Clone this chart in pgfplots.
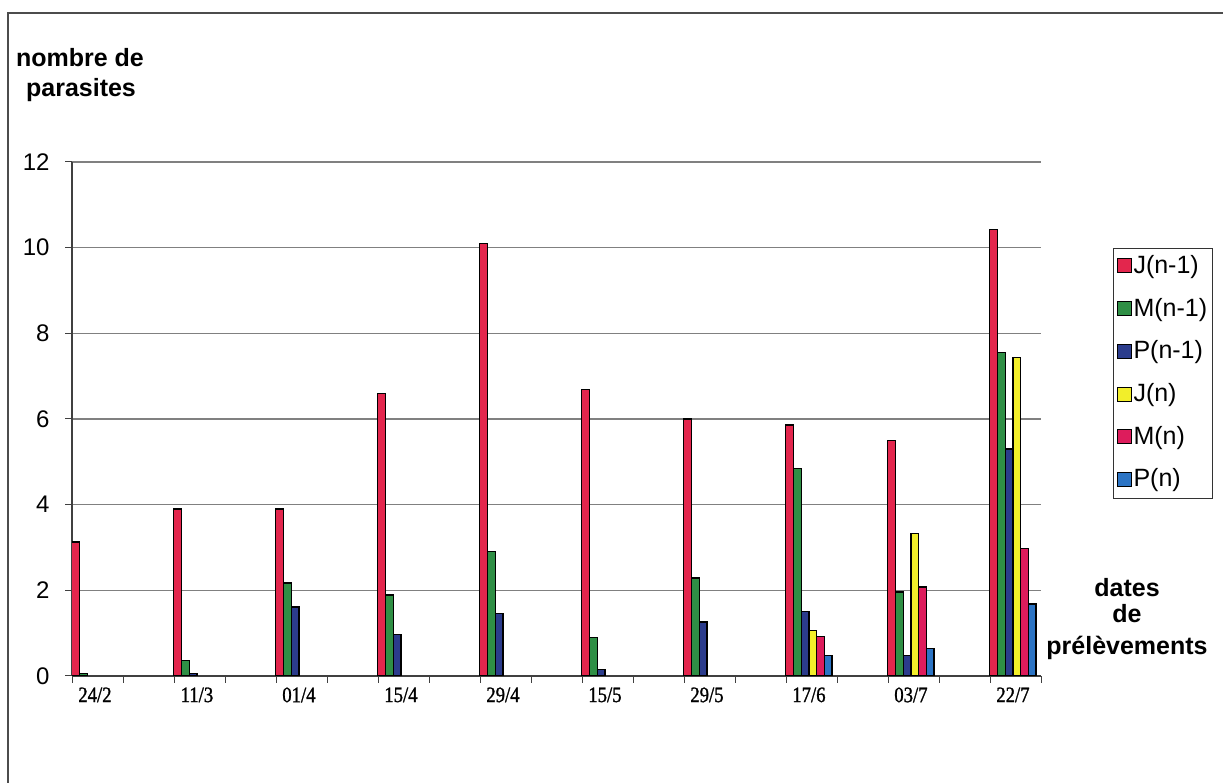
\documentclass[border=0pt]{standalone}
\usepackage{fontspec}
\setmainfont{Liberation Sans}
\newfontfamily\tickserif[FakeStretch=0.85,FakeBold=1.2]{Liberation Serif}
\usepackage{pgfplots}
\pgfplotsset{compat=1.18}
\usepackage{pgfplotstable}

\definecolor{cJa}{HTML}{E3264D}
\definecolor{cMa}{HTML}{2F8F45}
\definecolor{cPa}{HTML}{2B3C8C}
\definecolor{cJb}{HTML}{F2EE2A}
\definecolor{cMb}{HTML}{DD1C5C}
\definecolor{cPb}{HTML}{2C74C4}

\pgfplotstableread{
x JA MA PA JB MB PB
0.45 3.13 0.05 nan nan nan nan
2.45 3.90 0.37 0.05 nan nan nan
4.45 3.90 2.17 1.61 nan nan nan
6.45 6.60 1.89 0.96 nan nan nan
8.45 10.10 2.90 1.45 nan nan nan
10.45 6.68 0.89 0.16 nan nan nan
12.45 6.00 2.29 1.26 nan nan nan
14.45 5.86 4.84 1.50 1.07 0.93 0.47
16.45 5.49 1.96 0.47 3.32 2.08 0.65
18.45 10.42 7.55 5.30 7.43 2.97 1.68
}\data

\begin{document}
\begin{tikzpicture}
\useasboundingbox (0bp,0bp) rectangle (1223bp,783bp);
\draw[line width=1.5bp, black!70] (8bp,0bp) -- (8bp,770bp) -- (1223bp,770bp);
\node[anchor=base, inner sep=0pt, font=\fontsize{25bp}{30bp}\selectfont\bfseries] at (80bp,716bp) {nombre de};
\node[anchor=base, inner sep=0pt, font=\fontsize{25bp}{30bp}\selectfont\bfseries] at (81bp,686bp) {parasites};
\node[anchor=base, inner sep=0pt, font=\fontsize{25bp}{30bp}\selectfont\bfseries] at (1127bp,186bp) {dates};
\node[anchor=base, inner sep=0pt, font=\fontsize{25bp}{30bp}\selectfont\bfseries] at (1127bp,160bp) {de};
\node[anchor=base, inner sep=0pt, font=\fontsize{25bp}{30bp}\selectfont\bfseries] at (1127bp,128bp) {prélèvements};
\begin{axis}[
  at={(72bp,107bp)}, anchor=south west,
  scale only axis, width=969bp, height=514bp,
  xmin=0, xmax=19, ymin=0, ymax=12,
  axis lines=left, axis line style={-, line width=1.3bp, black!75},
  ybar=0pt, bar width=7.7bp,
  unbounded coords=discard,
  ytick={0,2,...,12},
  ymajorgrids, major grid style={line width=1.2bp, black!50},
  tick align=outside, major tick length=7bp,
  tick style={line width=1bp, black!75},
  yticklabel style={font=\fontsize{24bp}{28bp}\selectfont, /pgf/number format/assume math mode=true, xshift=-12bp},
  xtick={0,1,...,19}, xticklabels={},
  extra x ticks={0.45,2.45,4.45,6.45,8.45,10.45,12.45,14.45,16.45,18.45},
  extra x tick labels={24/2,11/3,01/4,15/4,29/4,15/5,29/5,17/6,03/7,22/7},
  extra x tick style={major tick length=0pt, xticklabel style={font=\tickserif\fontsize{22bp}{26bp}\selectfont, yshift=-8bp}},
  legend style={at={(1.0743,0.8327)}, anchor=north west, draw=black!80, line width=1bp,
    inner xsep=3bp, inner ysep=5bp, font=\fontsize{25bp}{29bp}\selectfont,
    nodes={inner sep=2bp, text height=18bp, text depth=5bp}, row sep=15.7bp},
  legend cell align=left,
  legend image code/.code={\draw[#1, draw=black, line width=1bp] (3bp,-6bp) rectangle (17bp,8bp);},
]
\addplot[fill=cJa, draw=black, line width=1.2bp] table[x=x,y=JA]{\data};
\addplot[fill=cMa, draw=black, line width=1.2bp] table[x=x,y=MA]{\data};
\addplot[fill=cPa, draw=black, line width=1.2bp] table[x=x,y=PA]{\data};
\addplot[fill=cJb, draw=black, line width=1.2bp] table[x=x,y=JB]{\data};
\addplot[fill=cMb, draw=black, line width=1.2bp] table[x=x,y=MB]{\data};
\addplot[fill=cPb, draw=black, line width=1.2bp] table[x=x,y=PB]{\data};
\legend{J(n-1),M(n-1),P(n-1),J(n),M(n),P(n)}
\end{axis}
\end{tikzpicture}
\end{document}
